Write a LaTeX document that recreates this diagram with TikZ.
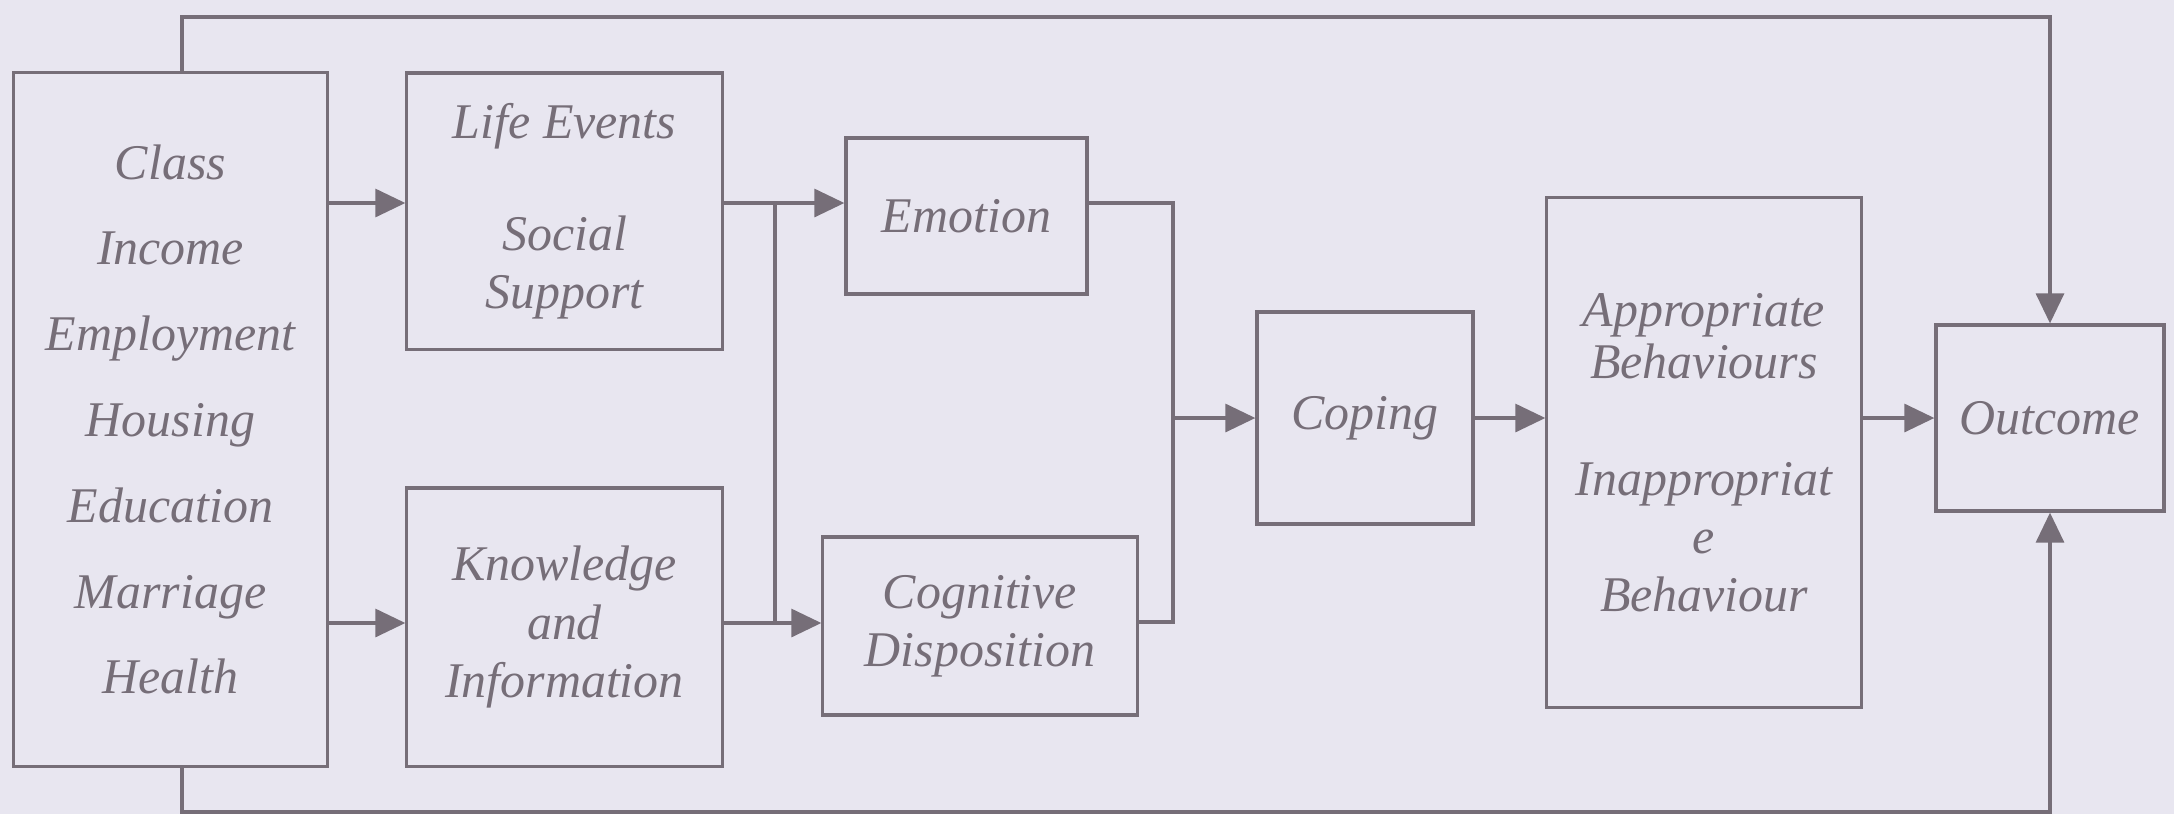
\documentclass[tikz,border=0pt]{standalone}
\usepackage{fontspec}
\setmainfont{Liberation Serif}
\usetikzlibrary{arrows.meta}
\definecolor{paper}{RGB}{232,230,240}
\definecolor{ink}{RGB}{118,110,120}
\tikzset{
  box/.style={draw=ink, line width=0.9pt, text=ink, align=center, inner sep=0pt,
    font=\itshape\fontsize{14.2}{16.5}\selectfont},
  wire/.style={draw=ink, line width=0.9pt},
  arr/.style={wire, -{Triangle[length=0.3cm,width=0.28cm]}}
}

\begin{document}
\begin{tikzpicture}[x=0.01cm, y=-0.01cm]
\fill[paper] (0,0) rectangle (2174,814);
\useasboundingbox (0,0) rectangle (2174,814);

\node[box, minimum width=3.13cm, minimum height=6.93cm] (cls) at (170.5,419.5)
  {Class\\[7.9pt] Income\\[7.9pt] Employment\\[7.9pt] Housing\\[7.9pt] Education\\[7.9pt] Marriage\\[7.9pt] Health};
\node[box, minimum width=3.15cm, minimum height=2.76cm] (life) at (564.5,211) {Life Events\\[15.3pt] Social\\ Support};
\node[box, minimum width=3.15cm, minimum height=2.78cm] (know) at (564.5,627) {Knowledge\\ and\\ Information};
\node[box, minimum width=2.41cm, minimum height=1.56cm] (emo) at (966.5,216) {Emotion};
\node[box, minimum width=3.14cm, minimum height=1.78cm] (cog) at (980,626) {Cognitive\\ Disposition};
\node[box, minimum width=2.16cm, minimum height=2.12cm] (cope) at (1365,418) {Coping};
\node[box, minimum width=3.14cm, minimum height=5.09cm] (beh) at (1704,452.5)
  {Appropriate\\[-1.7pt] Behaviours\\[16.7pt] Inappropriat\\ e\\ Behaviour};
\node[box, minimum width=2.28cm, minimum height=1.86cm] (out) at (2050,418) {Outcome};

\coordinate (topleft) at (182,17);
\coordinate (botleft) at (182,812);
\coordinate (b1t) at (775,203);
\coordinate (b1b) at (775,623);
\coordinate (b2t) at (1173,203);
\coordinate (b2b) at (1173,622);

\draw[arr] (cls.north -| topleft) -- (topleft) -| (out.north);
\draw[arr] (cls.south -| botleft) -- (botleft) -| (out.south);
\draw[arr] (cls.east |- b1t) -- (life.west |- b1t);
\draw[arr] (cls.east |- b1b) -- (know.west |- b1b);
\draw[arr] (life.east |- b1t) -- (emo.west |- b1t);
\draw[arr] (know.east |- b1b) -- (cog.west |- b1b);
\draw[wire] (b1t) -- (b1b);
\draw[wire] (emo.east |- b2t) -- (b2t) -- (b2b) -- (cog.east |- b2b);
\draw[arr] (b2t |- cope.west) -- (cope.west);
\draw[arr] (cope.east) -- (beh.west |- cope.east);
\draw[arr] (beh.east |- out.west) -- (out.west);
\end{tikzpicture}
\end{document}
